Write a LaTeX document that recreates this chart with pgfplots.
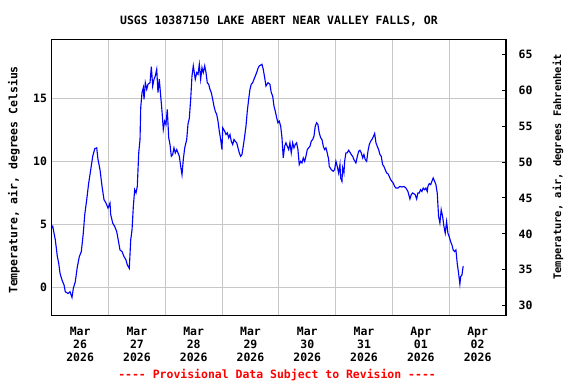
\documentclass[border=0pt]{standalone}
\usepackage{fontspec}
\setmonofont{DejaVu Sans Mono}
\renewcommand{\familydefault}{\ttdefault}
\usepackage{pgfplots}
\usepackage{pgfplotstable}
\pgfplotsset{compat=1.18}
\pgfplotstableread{
d t
0.005 4.73
0.018 4.86
0.035 4.46
0.063 3.80
0.099 2.47
0.123 1.94
0.146 1.15
0.181 0.61
0.217 0.21
0.239 -0.32
0.287 -0.45
0.322 -0.32
0.357 -0.77
0.380 -0.05
0.415 0.48
0.451 1.67
0.486 2.47
0.521 2.87
0.556 4.33
0.581 5.79
0.616 6.98
0.651 8.31
0.687 9.37
0.722 10.43
0.757 11.02
0.792 11.10
0.815 10.17
0.850 9.37
0.886 8.04
0.921 6.98
0.956 6.72
0.991 6.32
1.026 6.72
1.039 5.79
1.074 5.13
1.109 4.86
1.144 4.46
1.167 3.90
1.202 3.00
1.238 2.87
1.273 2.47
1.308 2.20
1.331 1.81
1.366 1.54
1.391 3.80
1.414 4.59
1.437 6.45
1.461 7.78
1.484 7.52
1.507 8.04
1.532 10.70
1.555 11.76
1.567 14.28
1.590 15.48
1.613 15.88
1.625 14.94
1.648 16.27
1.673 15.74
1.695 16.14
1.731 16.27
1.754 17.55
1.778 16.00
1.801 16.54
1.824 16.80
1.849 17.33
1.871 15.48
1.894 16.54
1.919 15.21
1.942 14.01
1.965 12.56
1.989 13.22
2.012 12.95
2.035 14.15
2.060 11.90
2.083 11.36
2.106 10.43
2.130 10.57
2.153 11.10
2.176 10.70
2.201 10.96
2.224 10.70
2.247 10.43
2.271 9.63
2.294 8.97
2.317 10.17
2.342 11.10
2.377 11.76
2.400 13.00
2.423 13.45
2.447 14.94
2.470 16.80
2.493 17.60
2.528 16.54
2.553 17.07
2.576 16.93
2.599 17.73
2.623 16.54
2.646 17.47
2.669 17.07
2.694 17.60
2.717 17.07
2.739 16.27
2.764 16.14
2.787 15.74
2.810 15.48
2.835 14.94
2.857 14.41
2.880 14.01
2.905 13.75
2.928 13.22
2.951 12.42
2.975 11.76
2.998 10.96
3.011 12.69
3.046 12.42
3.069 12.16
3.092 12.29
3.116 11.90
3.139 12.16
3.162 11.62
3.187 11.36
3.210 11.76
3.232 11.62
3.257 11.50
3.280 11.10
3.303 10.70
3.327 10.43
3.350 10.57
3.373 11.23
3.398 12.02
3.421 12.82
3.444 14.01
3.468 14.94
3.491 15.74
3.514 16.14
3.539 16.27
3.562 16.54
3.585 16.80
3.609 17.07
3.632 17.40
3.655 17.60
3.702 17.73
3.725 17.33
3.750 16.67
3.773 16.00
3.808 16.27
3.843 16.14
3.866 15.48
3.891 15.21
3.914 14.41
3.937 14.01
3.961 13.49
3.984 13.09
4.007 13.22
4.032 12.82
4.055 11.90
4.077 10.30
4.102 11.23
4.125 11.50
4.148 11.23
4.173 10.96
4.195 11.50
4.218 10.70
4.243 11.50
4.266 11.10
4.289 11.36
4.313 11.50
4.336 10.96
4.359 9.77
4.384 10.03
4.407 9.90
4.430 10.30
4.454 10.03
4.477 10.43
4.500 10.96
4.525 11.10
4.548 11.23
4.570 11.62
4.595 11.76
4.618 12.02
4.641 12.82
4.665 13.09
4.688 12.95
4.711 12.29
4.736 11.90
4.759 11.76
4.782 11.23
4.806 10.96
4.829 11.10
4.852 10.70
4.877 10.17
4.887 9.63
4.923 9.37
4.958 9.24
4.982 9.37
5.005 10.03
5.028 9.63
5.053 9.10
5.076 9.77
5.088 8.71
5.111 8.44
5.123 9.51
5.146 9.10
5.158 10.03
5.181 10.70
5.204 10.70
5.229 10.91
5.252 10.75
5.275 10.57
5.299 10.43
5.322 10.17
5.357 9.90
5.382 10.43
5.406 10.83
5.428 10.91
5.451 10.70
5.476 10.30
5.498 10.57
5.521 10.17
5.546 10.03
5.569 10.83
5.592 11.36
5.616 11.62
5.639 11.76
5.662 11.97
5.687 12.24
5.710 11.50
5.732 11.23
5.757 10.96
5.780 10.57
5.803 10.43
5.827 9.77
5.850 9.63
5.873 9.37
5.898 9.10
5.921 9.05
5.944 8.84
5.968 8.57
5.991 8.44
6.014 8.31
6.039 8.04
6.062 7.91
6.085 7.91
6.097 7.91
6.132 8.04
6.167 7.99
6.202 8.04
6.238 7.91
6.273 7.64
6.308 7.04
6.331 7.38
6.356 7.52
6.378 7.46
6.401 7.38
6.426 7.04
6.449 7.52
6.472 7.52
6.496 7.78
6.519 7.64
6.542 7.91
6.567 7.78
6.590 7.91
6.613 7.64
6.625 8.04
6.648 8.26
6.673 8.18
6.695 8.44
6.718 8.71
6.743 8.44
6.766 8.18
6.789 7.52
6.813 5.65
6.836 5.13
6.859 6.19
6.884 5.65
6.907 4.86
6.930 4.33
6.954 5.25
6.977 4.33
7.000 4.06
7.025 3.66
7.048 3.40
7.070 3.00
7.095 2.87
7.118 3.00
7.141 1.94
7.165 1.15
7.188 0.29
7.201 0.88
7.224 1.01
7.246 1.73
}\temps
\begin{document}
\begin{tikzpicture}
\useasboundingbox (0,0) rectangle (432pt,288pt);
\begin{axis}[
  at={(38.8pt,51.2pt)}, anchor=south west,
  width=340.7pt, height=207.3pt, scale only axis,
  xmin=0, xmax=8, ymin=-2.22, ymax=19.71,
  xtick={0.5,1.5,...,7.5},
  xticklabels={{Mar\\26\\2026},{Mar\\27\\2026},{Mar\\28\\2026},{Mar\\29\\2026},{Mar\\30\\2026},{Mar\\31\\2026},{Apr\\01\\2026},{Apr\\02\\2026}},
  minor xtick={1,...,7},
  xminorgrids, ymajorgrids,
  ytick={0,5,10,15},
  major tick length=0pt, minor tick length=0pt,
  ytick pos=left, xtick pos=bottom,
  grid style={draw=black!22, line width=0.75pt},
  minor grid style={draw=black!22, line width=0.75pt},
  axis line style={line width=0.9pt},
  tick label style={font=\bfseries\fontsize{8.6}{9.75}\selectfont},
  xticklabel style={align=center, yshift=-5pt},
  /pgf/number format/assume math mode=true,
]
\addplot[blue, line width=0.85pt] table[x=d, y=t]{\temps};
\end{axis}
\begin{axis}[
  at={(38.8pt,51.2pt)}, anchor=south west,
  width=340.7pt, height=207.3pt, scale only axis,
  xmin=0, xmax=8, ymin=28.61, ymax=67.09,
  axis x line=none, axis y line*=right,
  ytick={30,35,...,65},
  tick align=inside, major tick length=3pt,
  tick style={black, line width=0.75pt},
  axis line style={line width=0.9pt},
  tick label style={font=\bfseries\fontsize{8.6}{9.75}\selectfont},
  yticklabel style={xshift=6pt},
  /pgf/number format/assume math mode=true,
]
\end{axis}
\node[font=\bfseries\fontsize{8.6}{10}\selectfont] at (209.2pt,272.3pt) {USGS 10387150 LAKE ABERT NEAR VALLEY FALLS, OR};
\node[rotate=90, font=\bfseries\fontsize{8.6}{10}\selectfont] at (10.5pt,153pt) {Temperature, air, degrees Celsius};
\node[rotate=90, font=\bfseries\fontsize{7.8}{10}\selectfont] at (418.5pt,162.8pt) {Temperature, air, degrees Fahrenheit};
\node[red, font=\bfseries\fontsize{8.6}{10}\selectfont] at (207.8pt,7pt) {-{}-{}-{}- Provisional Data Subject to Revision -{}-{}-{}-};
\end{tikzpicture}
\end{document}
